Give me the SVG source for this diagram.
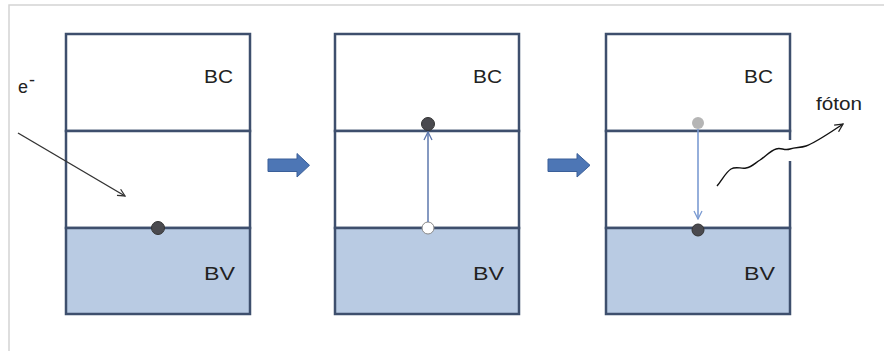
<svg xmlns="http://www.w3.org/2000/svg" width="884" height="351" viewBox="0 0 884 351">
<defs>
<style>
.frame{fill:none;stroke:#d4d4d4;stroke-width:1.5}
.band{fill:#ffffff;stroke:#3e4f6d;stroke-width:2.5}
.bv{fill:#b9cbe3;stroke:#3e4f6d;stroke-width:2.5}
.lbl{font-family:"Liberation Sans",Arial,sans-serif;font-size:18px;fill:#222}
.blk{fill:#4d76b5;stroke:#3a5f99;stroke-width:1}
</style>
<marker id="openDark" viewBox="0 0 10 10" refX="9" refY="5" markerWidth="9" markerHeight="9" markerUnits="userSpaceOnUse" orient="auto">
<path d="M1,1 L9,5 L1,9" fill="none" stroke="#333" stroke-width="1.4"/>
</marker>
<marker id="openBlue" viewBox="0 0 10 10" refX="9" refY="5" markerWidth="10" markerHeight="10" markerUnits="userSpaceOnUse" orient="auto">
<path d="M1,1 L9,5 L1,9" fill="none" stroke="#5c77ad" stroke-width="1.3"/>
</marker>
<marker id="openLight" viewBox="0 0 10 10" refX="9" refY="5" markerWidth="10" markerHeight="10" markerUnits="userSpaceOnUse" orient="auto">
<path d="M1,1 L9,5 L1,9" fill="none" stroke="#7b9bd2" stroke-width="1.3"/>
</marker>
<marker id="openBlack" viewBox="0 0 10 10" refX="9" refY="5" markerWidth="10" markerHeight="10" markerUnits="userSpaceOnUse" orient="auto">
<path d="M1,1 L9,5 L1,9" fill="none" stroke="#222" stroke-width="1.3"/>
</marker>
</defs>
<rect width="884" height="351" fill="#ffffff"/>
<path class="frame" d="M9,351 V5 H884"/>

<g id="panel1">
<rect class="band" x="66" y="34" width="184" height="97"/>
<rect class="band" x="66" y="131" width="184" height="97"/>
<rect class="bv" x="66" y="228" width="184" height="86"/>
<text class="lbl" x="204" y="83" textLength="29" lengthAdjust="spacingAndGlyphs">BC</text>
<text class="lbl" x="204" y="280" textLength="31" lengthAdjust="spacingAndGlyphs">BV</text>
<circle cx="158" cy="228" r="6.5" fill="#4a4a4f" stroke="#333" stroke-width="1"/>
</g>

<g id="panel2">
<rect class="band" x="335" y="34" width="184" height="97"/>
<rect class="band" x="335" y="131" width="184" height="97"/>
<rect class="bv" x="335" y="228" width="184" height="86"/>
<text class="lbl" x="473" y="83" textLength="29" lengthAdjust="spacingAndGlyphs">BC</text>
<text class="lbl" x="473" y="280" textLength="31" lengthAdjust="spacingAndGlyphs">BV</text>
<circle cx="428" cy="124" r="6.5" fill="#4a4a4f" stroke="#333" stroke-width="1"/>
<circle cx="428" cy="228" r="6" fill="#ffffff" stroke="#888" stroke-width="1"/>
</g>

<g id="panel3">
<rect class="band" x="606" y="34" width="184" height="97"/>
<rect class="band" x="606" y="131" width="184" height="97"/>
<rect class="bv" x="606" y="228" width="184" height="86"/>
<rect x="786" y="140" width="10" height="21" fill="#ffffff"/>
<text class="lbl" x="744" y="83" textLength="29" lengthAdjust="spacingAndGlyphs">BC</text>
<text class="lbl" x="744" y="280" textLength="31" lengthAdjust="spacingAndGlyphs">BV</text>
<circle cx="698" cy="123" r="6" fill="#b5b5b5"/>
<circle cx="698" cy="230" r="6" fill="#4a4a4f" stroke="#333" stroke-width="1"/>
</g>

<g id="electron">
<text class="lbl" x="18" y="93" font-size="17" textLength="10" lengthAdjust="spacingAndGlyphs">e</text>
<text class="lbl" x="29" y="86" font-size="10">-</text>
</g>

<g id="foton">
<text class="lbl" x="816" y="110" font-size="17" textLength="46" lengthAdjust="spacingAndGlyphs">fóton</text>
</g>

<g id="connectors">
<line x1="18" y1="133" x2="125" y2="196" stroke="#333" stroke-width="1.4" marker-end="url(#openDark)"/>
<line x1="428" y1="222" x2="428" y2="132" stroke="#5c77ad" stroke-width="1.5" marker-end="url(#openBlue)"/>
<line x1="698" y1="129" x2="698" y2="219" stroke="#7b9bd2" stroke-width="1.6" marker-end="url(#openLight)"/>
<path d="M717,186 C722,180 726,172 731,169 C736,166 741,169 746,168 C752,167 755,163 760,160 C766,156 770,151 776,149 C781,147 784,151 790,149 C796,147 800,148 806,146 C815,143 825,136 843,124" fill="none" stroke="#111" stroke-width="1.4" marker-end="url(#openBlack)"/>
<path class="blk" d="M268,159 H297 V153.5 L309.5,165.3 L297,177 V171.5 H268 Z"/>
<path class="blk" d="M548,159 H577 V153.5 L590,165.3 L577,177 V171.5 H548 Z"/>
</g>
</svg>
